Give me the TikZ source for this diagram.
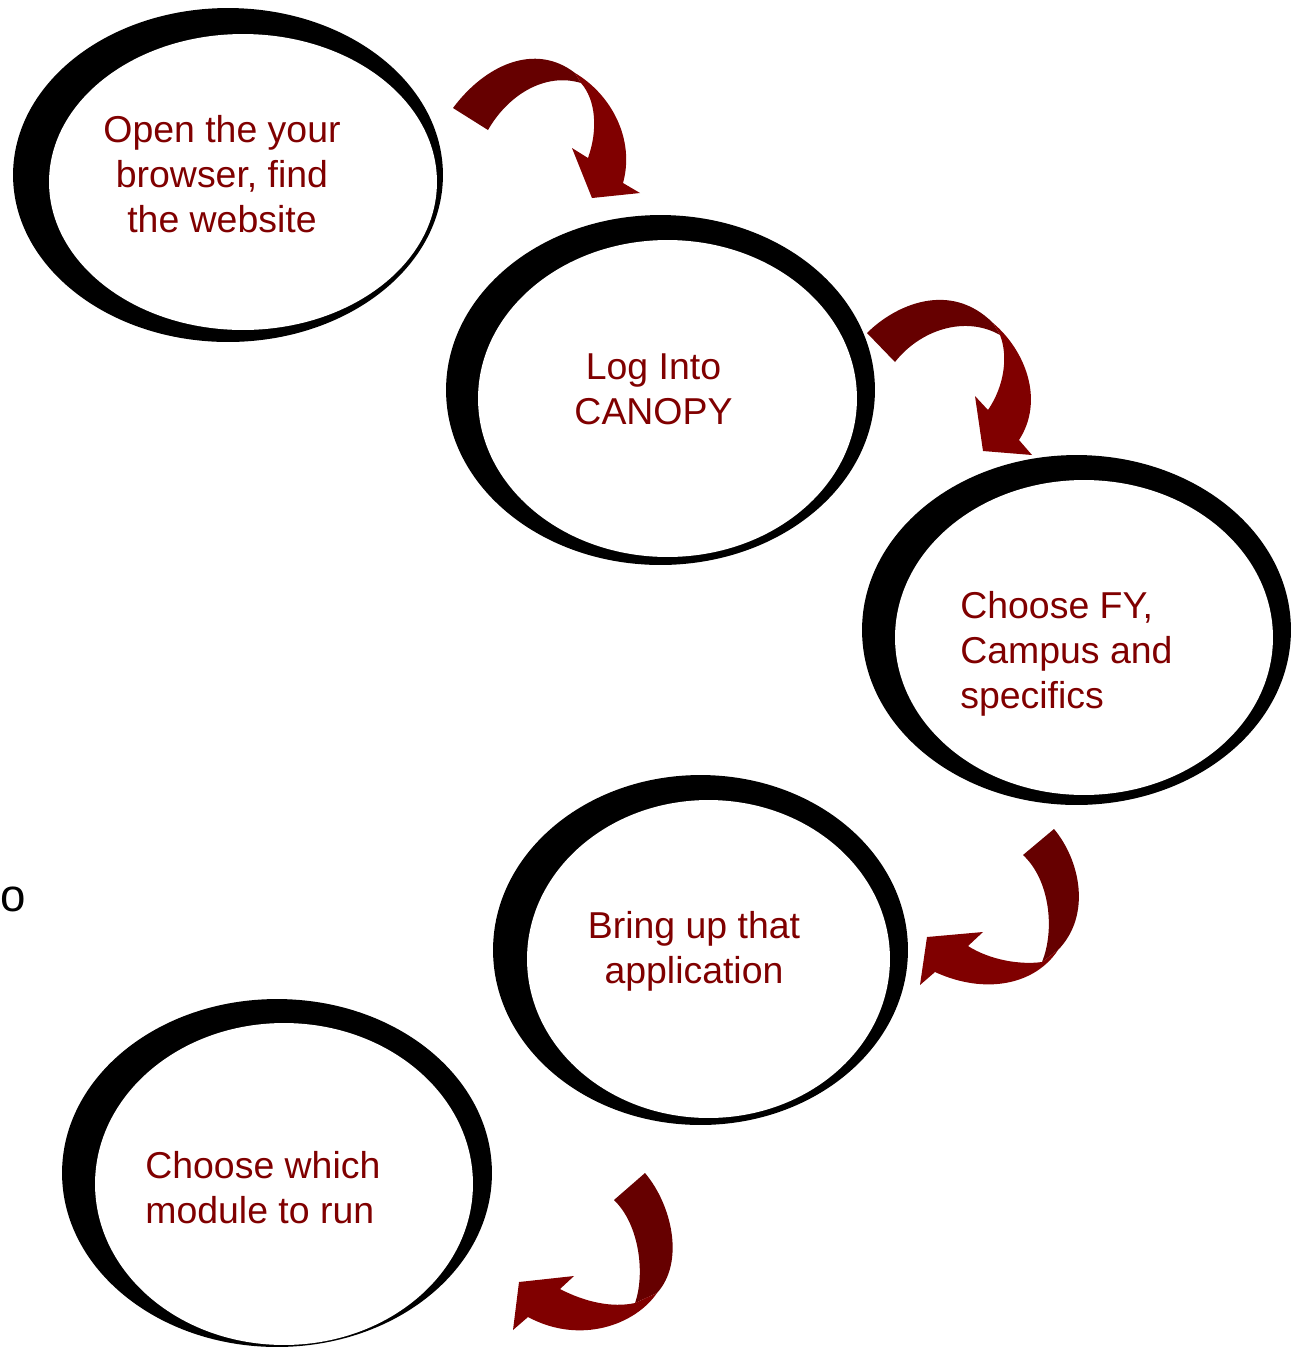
\documentclass[tikz,border=0pt]{standalone}
\usepackage{fontspec}
\setmainfont{Liberation Sans}
\usepackage{tikz}
\usetikzlibrary{shapes.geometric, positioning, calc}
\definecolor{stepred}{RGB}{128, 0, 0}
\definecolor{arrowdark}{RGB}{102, 0, 0}
\definecolor{arrowlight}{RGB}{128, 0, 0}

\begin{document}
\begin{tikzpicture}[
			x=0.02cm, y=-0.02cm,
			ring/.style={ellipse, fill=black, inner sep=0pt, minimum width=8.6cm, minimum height=7cm},
			hole/.style={ellipse, fill=white, inner sep=0pt, minimum width=7.56cm, minimum height=6.34cm},
			steptext/.style={text=stepred, inner sep=0pt, font=\fontsize{21.3pt}{25.6pt}\selectfont},
			bendfirst/.style={fill=arrowdark},
			bendsecond/.style={fill=arrowlight}
		]
		\useasboundingbox (0,0) rectangle (1292,1347);
		
		% Step 1
		\node[ring, minimum height=6.68cm] (open) at (228,175) {};
		\node[hole, minimum width=7.76cm, minimum height=5.92cm] (openin) at ([xshift=0.3cm, yshift=-0.14cm]open.center) {};
		\node[steptext, align=center, anchor=north] (opentext) at (222,115) {Open the your\\browser, find\\the website};
		
		% Step 2
		\node[ring, minimum width=8.58cm] (login) at (660.5,390) {};
		\node[hole, minimum width=7.58cm] (loginin) at ([xshift=0.14cm, yshift=-0.17cm]login.center) {};
		\node[steptext, align=center, anchor=north] (logintext) at (653.5,353) {Log Into\\CANOPY};
		
		% Step 3
		\node[ring, minimum width=8.58cm] (choose) at (1076.5,630) {};
		\node[hole, minimum height=6.3cm] (choosein) at ([xshift=0.15cm, yshift=-0.15cm]choose.center) {};
		\node[steptext, align=left, anchor=north west] (choosetext) at (960,591) {Choose FY,\\Campus and\\specifics};
		
		% Step 4
		\node[ring, minimum width=8.3cm] (bring) at (700.5,950) {};
		\node[hole, minimum width=7.26cm, minimum height=6.36cm] (bringin) at ([xshift=0.16cm, yshift=-0.18cm]bring.center) {};
		\node[steptext, align=center, anchor=north] (bringtext) at (694,911) {Bring up that\\application};
		
		% Step 5
		\node[ring, minimum height=6.96cm] (module) at (277,1173) {};
		\node[hole, minimum height=6.44cm] (modulein) at ([xshift=0.14cm, yshift=-0.22cm]module.center) {};
		\node[steptext, align=left, anchor=north west] (moduletext) at (145,1151) {Choose which\\module to run};
		
		% Stray letter
		\node[inner sep=0pt, anchor=base west, font=\fontsize{26pt}{30pt}\selectfont] (stray) at (0,911) {o};
		
		% Bent arrows
		\fill[bendfirst] (453,108) .. controls (485,65) and (535,42) .. (575,73) -- (581,83) .. controls (545,72) and (508,95) .. (488,130) -- cycle;
		\fill[bendsecond] (575,73) .. controls (612,95) and (635,140) .. (623,183) -- (640,193) -- (592,198) -- (572,148) -- (588,158) .. controls (598,130) and (596,100) .. (581,83) -- cycle;
		
		\fill[bendfirst] (867,333) .. controls (895,305) and (950,280) .. (993,323) -- (1000,335) .. controls (965,315) and (920,330) .. (895,362) -- cycle;
		\fill[bendsecond] (993,323) .. controls (1025,350) and (1045,400) .. (1019,440) -- (1032,455) -- (983,451) -- (975,396) -- (988,410) .. controls (1005,385) and (1008,355) .. (1000,335) -- cycle;
		
		\fill[bendfirst] (1054,829) .. controls (1080,860) and (1092,915) .. (1058,950) -- (1042,962) .. controls (1055,930) and (1050,880) .. (1023,855) -- cycle;
		\fill[bendsecond] (1058,950) .. controls (1035,985) and (985,995) .. (935,972) -- (920,985) -- (927,937) -- (983,932) -- (968,946) .. controls (990,960) and (1020,965) .. (1042,962) -- cycle;
		
		\fill[bendfirst] (645,1173) .. controls (672,1205) and (685,1262) .. (657,1293) -- (635,1303) .. controls (645,1275) and (640,1225) .. (614,1200) -- cycle;
		\fill[bendsecond] (657,1293) .. controls (635,1325) and (580,1345) .. (528,1317) -- (513,1330) -- (519,1282) -- (574,1276) -- (560,1289) .. controls (585,1302) and (612,1308) .. (635,1303) -- cycle;
		\end{tikzpicture}
\end{document}
